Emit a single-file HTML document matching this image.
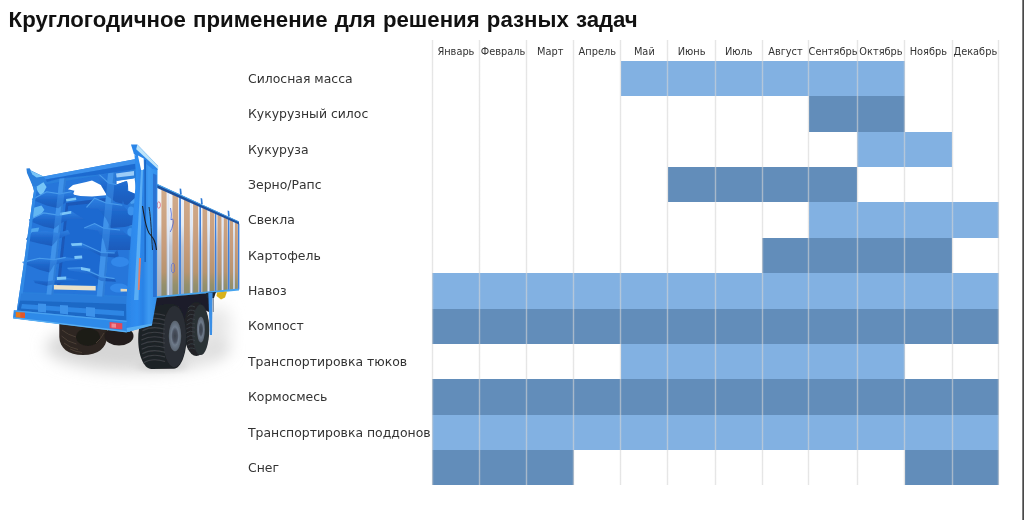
<!DOCTYPE html>
<html lang="ru"><head><meta charset="utf-8"><title>Круглогодичное применение</title>
<style>
html,body{margin:0;padding:0;background:#fff;}
body{width:1024px;height:520px;position:relative;overflow:hidden;font-family:"Liberation Sans",sans-serif;}
#title{position:absolute;left:8.6px;top:6.2px;margin:0;font-size:22.2px;word-spacing:1.0px;line-height:28px;font-weight:bold;color:#111;white-space:nowrap;transform-origin:0 50%;}
.m{position:absolute;top:44.6px;height:14px;line-height:14px;font-size:9.8px;color:#333;text-align:center;white-space:nowrap;font-family:"DejaVu Sans","Liberation Sans",sans-serif;}
.l{position:absolute;left:248px;height:20px;line-height:20px;font-size:12.45px;color:#333;white-space:nowrap;font-family:"DejaVu Sans","Liberation Sans",sans-serif;}
.c{position:absolute;}
.v{position:absolute;width:3px;background:linear-gradient(90deg,rgba(213,213,213,.12) 0,rgba(213,213,213,.12) 1px,rgba(213,213,213,.6) 1px,rgba(213,213,213,.6) 2px,rgba(213,213,213,.12) 2px);}
#edge{position:absolute;left:1022px;top:0;width:2px;height:520px;background:linear-gradient(90deg,#9a9a9a,#2e2e2e);}
#trailer{position:absolute;left:0;top:110px;}
</style></head><body>
<h1 id="title">Круглогодичное применение для решения разных задач</h1>

<div class="c" style="left:620.80px;top:61.00px;width:283.80px;height:35.37px;background:#82b1e2"></div>
<div class="l" style="top:68.89px">Силосная масса</div>
<div class="c" style="left:808.60px;top:96.37px;width:96.00px;height:35.37px;background:#628dba"></div>
<div class="l" style="top:104.26px">Кукурузный силос</div>
<div class="c" style="left:857.30px;top:131.74px;width:94.70px;height:35.37px;background:#82b1e2"></div>
<div class="l" style="top:139.62px">Кукуруза</div>
<div class="c" style="left:667.90px;top:167.11px;width:189.40px;height:35.37px;background:#628dba"></div>
<div class="l" style="top:174.99px">Зерно/Рапс</div>
<div class="c" style="left:808.60px;top:202.48px;width:190.10px;height:35.37px;background:#82b1e2"></div>
<div class="l" style="top:210.36px">Свекла</div>
<div class="c" style="left:762.30px;top:237.85px;width:189.70px;height:35.37px;background:#628dba"></div>
<div class="l" style="top:245.73px">Картофель</div>
<div class="c" style="left:432.30px;top:273.22px;width:566.40px;height:35.37px;background:#82b1e2"></div>
<div class="l" style="top:281.10px">Навоз</div>
<div class="c" style="left:432.30px;top:308.59px;width:566.40px;height:35.37px;background:#628dba"></div>
<div class="l" style="top:316.47px">Компост</div>
<div class="c" style="left:620.80px;top:343.96px;width:283.80px;height:35.37px;background:#82b1e2"></div>
<div class="l" style="top:351.84px">Транспортировка тюков</div>
<div class="c" style="left:432.30px;top:379.33px;width:566.40px;height:35.37px;background:#628dba"></div>
<div class="l" style="top:387.21px">Кормосмесь</div>
<div class="c" style="left:432.30px;top:414.70px;width:566.40px;height:35.37px;background:#82b1e2"></div>
<div class="l" style="top:422.58px">Транспортировка поддонов</div>
<div class="c" style="left:432.30px;top:450.07px;width:141.50px;height:35.37px;background:#628dba"></div>
<div class="c" style="left:904.60px;top:450.07px;width:94.10px;height:35.37px;background:#628dba"></div>
<div class="l" style="top:457.95px">Снег</div>
<div class="v" style="left:431px;top:40px;height:445.44px"></div>
<div class="v" style="left:478px;top:40px;height:445.44px"></div>
<div class="v" style="left:525px;top:40px;height:445.44px"></div>
<div class="v" style="left:572px;top:40px;height:445.44px"></div>
<div class="v" style="left:619px;top:40px;height:445.44px"></div>
<div class="v" style="left:666px;top:40px;height:445.44px"></div>
<div class="v" style="left:714px;top:40px;height:445.44px"></div>
<div class="v" style="left:761px;top:40px;height:445.44px"></div>
<div class="v" style="left:807px;top:40px;height:445.44px"></div>
<div class="v" style="left:856px;top:40px;height:445.44px"></div>
<div class="v" style="left:903px;top:40px;height:445.44px"></div>
<div class="v" style="left:951px;top:40px;height:445.44px"></div>
<div class="v" style="left:997px;top:40px;height:445.44px"></div>
<div class="m" style="left:432.30px;width:47.20px">Январь</div>
<div class="m" style="left:479.50px;width:47.20px">Февраль</div>
<div class="m" style="left:526.70px;width:47.10px">Март</div>
<div class="m" style="left:573.80px;width:47.00px">Апрель</div>
<div class="m" style="left:620.80px;width:47.10px">Май</div>
<div class="m" style="left:667.90px;width:47.30px">Июнь</div>
<div class="m" style="left:715.20px;width:47.10px">Июль</div>
<div class="m" style="left:762.30px;width:46.30px">Август</div>
<div class="m" style="left:808.60px;width:48.70px">Сентябрь</div>
<div class="m" style="left:857.30px;width:47.30px">Октябрь</div>
<div class="m" style="left:904.60px;width:47.40px">Ноябрь</div>
<div class="m" style="left:952.00px;width:46.70px">Декабрь</div>
<div id="edge"></div>
<svg id="trailer" width="246" height="290" viewBox="0 110 246 290" style="position:absolute;left:0;top:110px">
<defs>
<filter id="b8" x="-30%" y="-60%" width="160%" height="220%"><feGaussianBlur stdDeviation="8"/></filter>
<filter id="b3" x="-30%" y="-60%" width="160%" height="220%"><feGaussianBlur stdDeviation="3"/></filter>
<filter id="b1" x="-10%" y="-10%" width="120%" height="120%"><feGaussianBlur stdDeviation="0.6"/></filter>
<filter id="b05" x="-5%" y="-5%" width="110%" height="110%"><feGaussianBlur stdDeviation="0.35"/></filter>
<linearGradient id="beige" x1="0" y1="186" x2="0" y2="296" gradientUnits="userSpaceOnUse">
<stop offset="0" stop-color="#d2ad8d"/><stop offset="0.55" stop-color="#c79c7b"/><stop offset="0.78" stop-color="#b8946f"/><stop offset="0.9" stop-color="#94906c"/><stop offset="1" stop-color="#8a8a6c"/></linearGradient>
<linearGradient id="silver" x1="0" y1="186" x2="0" y2="296" gradientUnits="userSpaceOnUse">
<stop offset="0" stop-color="#f6f8fb"/><stop offset="0.35" stop-color="#e6eaf1"/><stop offset="0.55" stop-color="#c0c8d6"/><stop offset="1" stop-color="#a2acbe"/></linearGradient>
<linearGradient id="post" x1="127" y1="0" x2="156" y2="0" gradientUnits="userSpaceOnUse">
<stop offset="0" stop-color="#2b85e8"/><stop offset="0.35" stop-color="#2f8df0"/><stop offset="0.55" stop-color="#2a82e6"/><stop offset="0.75" stop-color="#3d9af2"/><stop offset="1" stop-color="#3390ec"/></linearGradient>
<linearGradient id="fl" x1="0" y1="0" x2="0" y2="1"><stop offset="0" stop-color="#2e80e2"/><stop offset="0.45" stop-color="#1f68cc"/><stop offset="1" stop-color="#1a5aba"/></linearGradient>
<radialGradient id="rim"><stop offset="0" stop-color="#3a404a"/><stop offset="0.4" stop-color="#4a525f"/><stop offset="0.6" stop-color="#6f7b8b"/><stop offset="1" stop-color="#59636f"/></radialGradient>
</defs>
<g filter="url(#b8)"><ellipse cx="138" cy="347" rx="92" ry="24" fill="#d6d6d6"/><polygon points="150,330 225,305 232,330 200,360" fill="#e6e6e6"/></g>
<g filter="url(#b3)"><ellipse cx="162" cy="366" rx="26" ry="3.5" fill="#d0d0d0"/></g>
<g filter="url(#b05)">
<path d="M59.3,322 L59.3,337 C59.8,348 68,355 83,355 C98,355 106.5,348 107,337 L107,322z" fill="#2d2622"/>
<ellipse cx="88" cy="337" rx="12" ry="9" fill="#1f1b19"/>
<path d="M62,330 q6,5 14,7 M61.5,336 q6,6 15,8 M64,343 q6,5 14,6.5 M70,349 q6,3 12,3.5 M104,333 q-3,6 -8,10" fill="none" stroke="#4a3e35" stroke-width="1"/>
<ellipse cx="119" cy="336" rx="14.5" ry="9.6" fill="#241f1c"/>
<polygon points="156.3,185.5 238.8,223.5 238.8,289.6 156.3,297.2" fill="url(#silver)"/>
<polygon points="161.4,187.8 166.6,190.2 166.6,296.3 161.4,296.7" fill="url(#beige)"/>
<polygon points="172.5,193.0 178.1,195.5 178.1,295.2 172.5,295.7" fill="url(#beige)"/>
<polygon points="184.0,198.3 189.8,200.9 189.8,294.1 184.0,294.6" fill="url(#beige)"/>
<polygon points="193.1,202.5 198.1,204.8 198.1,293.3 193.1,293.8" fill="url(#beige)"/>
<polygon points="202.5,206.8 207.2,209.0 207.2,292.5 202.5,292.9" fill="url(#beige)"/>
<polygon points="210.0,210.2 214.4,212.3 214.4,291.8 210.0,292.3" fill="url(#beige)"/>
<polygon points="217.5,213.7 221.5,215.5 221.5,291.2 217.5,291.6" fill="url(#beige)"/>
<polygon points="223.8,216.6 227.5,218.3 227.5,290.6 223.8,291.0" fill="url(#beige)"/>
<polygon points="230.0,219.4 233.1,220.9 233.1,290.1 230.0,290.4" fill="url(#beige)"/>
<polygon points="235.0,221.7 237.8,223.0 237.8,289.7 235.0,290.0" fill="url(#beige)"/>
<polygon points="179.2,196.0 180.9,196.8 180.9,294.9 179.2,295.1" fill="#3d7fdc"/>
<polygon points="199.4,205.4 201.0,206.1 201.0,293.1 199.4,293.2" fill="#3d7fdc"/>
<polygon points="215.0,212.5 216.3,213.1 216.3,291.7 215.0,291.8" fill="#3d7fdc"/>
<polygon points="228.0,218.5 229.4,219.2 229.4,290.5 228.0,290.6" fill="#3d7fdc"/>
<polygon points="238.0,223.1 239.4,223.8 239.4,289.5 238.0,289.7" fill="#3d7fdc"/>
<polygon points="167.5,190.7 168.9,191.3 168.9,296.0 167.5,296.2" fill="#dfe8f6"/>
<polygon points="190.6,201.3 191.9,201.9 191.9,293.9 190.6,294.0" fill="#dfe8f6"/>
<polygon points="207.8,209.2 208.9,209.7 208.9,292.4 207.8,292.5" fill="#dfe8f6"/>
<polygon points="221.9,215.7 222.9,216.2 222.9,291.1 221.9,291.2" fill="#dfe8f6"/>
<polygon points="233.5,221.1 234.4,221.5 234.4,290.0 233.5,290.1" fill="#dfe8f6"/>
<ellipse cx="158.8" cy="205" rx="1.6" ry="3.2" fill="none" stroke="#e0566a" stroke-width="0.7"/>
<path d="M170.5,208 q1.5,6 0.5,12 q2.5,-3 2.2,3 q-1,6 -3,9" fill="none" stroke="#3b59d8" stroke-width="0.9" opacity="0.8"/>
<ellipse cx="173" cy="268" rx="1.8" ry="5" fill="none" stroke="#4a62dc" stroke-width="0.8" opacity="0.7"/>
<polygon points="156,183.4 239,221.6 239,224.4 156,187.6" fill="#1d4f9c"/>
<polygon points="156,183.2 239,221.4 239,222.3 156,184.4" fill="#48a6ef"/>
<path d="M180,194.41636363636363 l-0.4,-6 l1.6,0.4 l0.6,5.6z" fill="#2b78d6"/>
<path d="M201,204.0890909090909 l-0.4,-6 l1.6,0.4 l0.6,5.6z" fill="#2b78d6"/>
<path d="M228,216.52545454545452 l-0.4,-6 l1.6,0.4 l0.6,5.6z" fill="#2b78d6"/>
<polygon points="156,296.2 239,288.6 239,290.6 156,298.6" fill="#46a4ee"/>
<polygon points="150,298.6 213,292.8 212,300 209,312 196,306 192,332 180,332 178,306 152,326 148,326" fill="#1a1f2b"/>
<polygon points="217,292.4 227,291.4 225,297.5 221,299.5 216.5,296" fill="#d8b21c"/>
<polygon points="206,293 216,292 214,298 207,298" fill="#1f2630"/>
<polygon points="208.3,293 212.6,292.6 212,335 209.8,335" fill="#3b8fe6"/>
<rect x="212.6" y="298" width="1.4" height="14" fill="#8c97a6"/>
<ellipse cx="196.3" cy="329" rx="12.6" ry="27" fill="#202327"/>
<ellipse cx="200.6" cy="329.8" rx="8.6" ry="25.3" fill="#2c3036"/>
<ellipse cx="200.9" cy="329.6" rx="4" ry="12.8" fill="url(#rim)"/>
<path d="M174,304.4 C166,303.6 158,305 151,308 C143,312 138.2,325 138.2,339 C138.2,355 143.5,368.6 151.5,369 L174,368.8 C181,368.8 186.6,354 186.6,336.6 C186.6,319 181,304.8 174,304.4z" fill="#1f2226"/>
<ellipse cx="174.4" cy="336.6" rx="11.6" ry="30.6" fill="#2b2f35"/>
<ellipse cx="175" cy="336" rx="6.2" ry="15.2" fill="url(#rim)"/>
<path d="M144.1,317.0 Q152,311.5 165,315.5 M143.6,321.6 Q152,316.1 165,320.1 M143.0,326.2 Q152,320.7 165,324.7 M142.5,330.8 Q152,325.3 165,329.3 M141.9,335.4 Q152,329.9 165,333.9 M141.4,340.0 Q152,334.5 165,338.5 M141.2,344.6 Q152,339.1 165,343.1 M141.7,349.2 Q152,343.7 165,347.7 M142.3,353.8 Q152,348.3 165,352.3 M142.8,358.4 Q152,352.9 165,356.9 M143.4,363.0 Q152,357.5 165,361.5" fill="none" stroke="#3b3f45" stroke-width="1.1"/>
<path d="M188.3,308.0 Q190,304.5 195,307.0 M187.9,312.2 Q190,308.7 195,311.2 M187.5,316.4 Q190,312.9 195,315.4 M187.0,320.6 Q190,317.1 195,319.6 M186.6,324.8 Q190,321.3 195,323.8 M186.2,329.0 Q190,325.5 195,328.0 M186.2,333.2 Q190,329.7 195,332.2 M186.6,337.4 Q190,333.9 195,336.4 M187.1,341.6 Q190,338.1 195,340.6 M187.5,345.8 Q190,342.3 195,344.8 M187.9,350.0 Q190,346.5 195,349.0" fill="none" stroke="#3b3f45" stroke-width="0.9"/>
<!-- rear body base -->
<polygon points="31,179 43.4,176.4 136,159.1 139,200 130,332 13.2,318.3 14,310.5 16.6,312 24.4,260 27.6,236 32.5,200 34,191 31.5,182" fill="#2a7fdc"/>
<!-- interior darker zone -->
<polygon points="36,186 130,170 128,296 22,292" fill="#2576da"/>
<!-- back wall panel -->
<polygon points="66,203 106,198 99,285 57,286" fill="#1f69d0"/>
<polygon points="66,203 106,198 105.6,202 66.5,206" fill="#1a58b8"/>
<polygon points="66,203 68.5,203 60,286 57,286" fill="#1a58b8"/>
<!-- sky gaps -->
<polygon points="67.9,189.3 73,184.9 86.2,182 92,180.5 97.9,183.4 103.7,186.4 106.7,190.8 105.9,195.2 92,196.6 80.3,195.9 73,194.4 74.4,190.8" fill="#ffffff"/>
<polygon points="116.6,180.8 134.5,178 136.8,194.5 128.3,190.8 128,186 127,181.2 124.6,181.8 116.6,184.6" fill="#ffffff"/>
<polygon points="128,197 134,196 135.5,203 131,204" fill="#4a9ff0"/>
<polygon points="127.5,219 134,218 134.5,225.5 129.5,226" fill="#4a9ff0"/>
<!-- thin bar behind beam right -->
<polygon points="116.6,177.4 133.9,175.4 133.9,178.6 116.6,181" fill="#2c7fdc"/><polygon points="116,173.6 134,171 134,175.4 116.6,177.4" fill="#9ccdf8"/>
<!-- vertical posts -->
<polygon points="59.8,176 66.4,175 52.5,300 45.9,300" fill="#3f93ea"/>
<polygon points="64.6,175.3 66.4,175 52.5,300 50.7,300" fill="#2068c4"/>
<polygon points="108.1,173 115.5,172 103.7,300 96.4,300" fill="#3f93ea"/>
<polygon points="113.6,172.3 115.5,172 103.7,300 101.8,300" fill="#2068c4"/>
<!-- cyan highlights left -->
<polygon points="29.8,173.2 39.3,176.1 46.6,187.1 41.5,196.6 37.8,191.5 34.2,183.4" fill="#74c4f7"/>
<polygon points="32,208.3 41.5,205.4 44.4,209.8 39.3,217.1 33.4,218.6" fill="#62b6f3"/>
<polygon points="30.5,228.8 39.3,227.4 36.4,237 29.5,238" fill="#4fa6ee"/>
<!-- auger flights left -->
<g fill="url(#fl)">
<polygon points="32,199.5 46.6,191.5 59.8,193.7 71.5,191.5 74.4,195.2 65.7,202.5 58.3,208.3 46.6,205.4 33.4,200.3"/>
<polygon points="29,220 43.7,212.7 58.3,214.9 71.5,211.3 80.3,217.1 86.2,220 71.5,218.6 61.3,223 53.9,228.8 43.7,226.6 30.5,221.5"/>
<polygon points="26,239 32,232 46,231 58,233 68,230 70,234 58,239 52,246 39.3,243.5 27,240.5"/>
<polygon points="22.5,262.4 39.3,258 53.9,259.4 65.7,257.2 83.2,259.4 65.7,260.9 53.9,265.3 49.5,272.6 39.3,269.7 23.9,263.8"/>
<polygon points="33.4,280 46.6,281.4 65.7,277.7 78.8,280 53.9,284.3 46.6,285.8 34.9,282.9"/>
<!-- right -->
<polygon points="95.8,171.2 102.7,177 108.5,182.7 116.6,184.5 124.6,181.6 127,181 128.1,186.2 127,190.8 136.2,194.3 136,197 127.2,205 115.5,202 107.3,196 101.5,186.2 98,177"/>
<polygon points="86.5,207.3 94.6,198 106.1,202.7 122.3,205 122.9,200.4 124.6,207.3 133.8,216.5 135,224.6 124.6,227 110.7,228 106.1,218.8 98,208.5 87.1,207.9"/>
<polygon points="84.2,228 94.6,223.4 103.8,228 120,229.8 121.1,228 124.6,232.7 133.8,239.6 131.5,250 106.1,250 103.8,240.7 98,230.4 84.8,228.6"/>
<polygon points="70.9,244 81.7,243.4 85,245.4 101.2,252.2 114.7,252.8 117.4,249.5 118.7,256.2 114.7,257.5 101.2,256.2 90.4,250.8 82.3,248.1 71.6,247.4"/>
<polygon points="67.5,268.3 81,267.6 90.4,269.7 101.2,276.4 114.7,278.4 116,281.8 101.2,281.1 90.4,275.1 82.3,272.4 68.9,270.3"/>
</g>
<!-- flight top highlights -->
<g fill="none" stroke="#4a9cec" stroke-width="1.1">
<path d="M32,199.5 L46.6,191.7 L59.8,193.9 L71.5,191.7"/>
<path d="M29,220 L43.7,212.9 L58.3,215.1 L71.5,211.5"/>
<path d="M22.5,262.4 L39.3,258.2 L53.9,259.6 L65.7,257.4"/>
<path d="M95.8,171.4 L108.5,182.9 L116.6,184.7"/>
<path d="M86.5,207.3 L94.6,198.2 L106.1,202.9 L122.3,205.2"/>
<path d="M84.2,228 L94.6,223.6 L103.8,228.2 L120,230"/>
<path d="M70.9,244 L81.7,243.6 L101.2,252.4 L114.7,253"/>
<path d="M67.5,268.3 L81,267.8 L101.2,276.6 L114.7,278.6"/>
</g>
<g fill="#7cc6f8">
<polygon points="70.9,243.4 81.7,242.8 82,245.4 72,246"/>
<polygon points="74.3,256 82,255.6 82.3,258.6 74.6,259"/>
<polygon points="81,267 90.4,268.8 90,271.6 81,270"/>
<polygon points="56.8,277 66.2,276.4 66.2,279.4 57,280"/>
<polygon points="66,199 76,197.6 76.3,200 66.3,201.4"/>
<polygon points="60,212.8 71,211 71.3,213.6 60.3,215.4"/>
</g>
<ellipse cx="120" cy="262" rx="9" ry="5" fill="#3288ea"/>
<ellipse cx="119" cy="288" rx="9" ry="4.5" fill="#3288ea"/>
<ellipse cx="131" cy="211" rx="3.4" ry="4.4" fill="#3a93ee"/>
<ellipse cx="130.5" cy="232" rx="3.2" ry="4" fill="#3a93ee"/>

<g opacity="0.5">
<polygon points="59.8,176 66.4,175 52.5,300 45.9,300" fill="#3f93ea"/>
<polygon points="108.1,173 115.5,172 103.7,300 96.4,300" fill="#3f93ea"/>
</g>
<!-- top beam -->
<polygon points="43.4,176.4 136,159.1 137,163.6 45.5,179.6" fill="#3a90ec"/>
<polygon points="45.5,179.6 137,163.6 138,168.8 100,174.4 60,178.6 47,182" fill="#1f6bd0"/>
<!-- hook top-left -->
<path d="M26.4,168.4 L29.6,168.2 L31,170.5 L43.4,176.4 L46,180.4 L36,187 L33.5,188 L27,173z" fill="#2a7fdc"/>
<path d="M30.3,170.4 L43.4,176.5 L36.5,177.6 L32.4,174.6z" fill="#7ac6f7"/>
<!-- left frame post -->
<polygon points="33,186 37,187 20.5,311 16.6,312 24.4,260 27.6,236 32.5,200 34,191" fill="#338ae6"/>
<!-- cream roller -->
<polygon points="53.9,285 95.7,286 95.7,290.4 53.9,289.4" fill="#ebe1c8"/>
<polygon points="120.6,288.8 127,289 127,291.6 120.6,291.4" fill="#e3d9be"/>
<!-- lower plates -->
<polygon points="21,293.5 126,297.5 126,304 20,300.5" fill="#2b7ddb"/>
<polygon points="20,300.5 126,304 126.5,322 17,312" fill="#1f69c6"/>
<polygon points="22,304 124,311 124,316 21,308.5" fill="#2f86e4"/>
<g fill="#3d92ea">
<polygon points="38,303.5 46,304 46,312.5 38,311.8"/>
<polygon points="60,305 68,305.6 68,314.4 60,313.6"/>
<polygon points="86,307 95,307.8 95,317 86,316"/>
</g>
<!-- bumper -->
<polygon points="13.9,310.3 127,320.8 126.7,332.2 13.2,318.3" fill="#2f8ae8"/>
<polygon points="13.2,317.3 126.7,331 126.7,332.4 13.2,318.6" fill="#5ab0f4"/>
<polygon points="13.9,310.3 127,320.8 127,322 13.9,311.5" fill="#4aa2f0"/>
<!-- lights -->
<polygon points="15.8,312 24.9,312.8 24.9,318 15.8,317.2" fill="#e8791f"/>
<polygon points="20.3,312.4 24.9,312.8 24.9,318 20.3,317.6" fill="#e2572a"/>
<polygon points="109.6,322 122.3,323.2 122.3,329.6 109.6,328.2" fill="#e0485a"/>
<polygon points="111.5,323.4 116,323.8 116,327.8 111.5,327.4" fill="#f08a92"/>
<!-- corner post -->
<polygon points="134.5,155 139,156 144.3,157.3 150.6,162 157.5,168 157,297 152,325 126.7,332.2 126.5,300 131,236 134.5,200 136,175" fill="url(#post)"/>
<polygon points="131,144.6 137.3,144.6 158.1,166 157.5,170 152.4,168.9 133.9,153.9" fill="#2b85e8"/>
<polygon points="137.3,144.8 158.3,166.2 158.1,169.2 136.2,149.2" fill="#bde4fa"/><polygon points="137.9,155.6 143.7,158.5 144,168.9 141.4,171.2" fill="#ffffff"/>
<polygon points="141,170 143,170 138.5,300 134,300" fill="#5aaef5"/>
<polygon points="144.3,160 146,160 146,262 144.3,262" fill="#1f68c6"/>
<polygon points="153,173.5 156.6,175 156.6,297 153,297" fill="#2a72d2"/>
<polygon points="126.7,328 152,323.4 152,325.4 126.7,332.2" fill="#55adf3"/>
<polygon points="139,258 141,258 139.6,290 137.8,290" fill="#e0806a"/>
<!-- hose -->
<path d="M142.5,206 C144,214 145,226 149,233 C153,238 155.5,240 156.5,250" fill="none" stroke="#1a1d22" stroke-width="1.1"/>
<path d="M149,207 C151,218 151.5,236 152.5,250" fill="none" stroke="#20242b" stroke-width="0.9"/>

</g>
</svg>
</body></html>
